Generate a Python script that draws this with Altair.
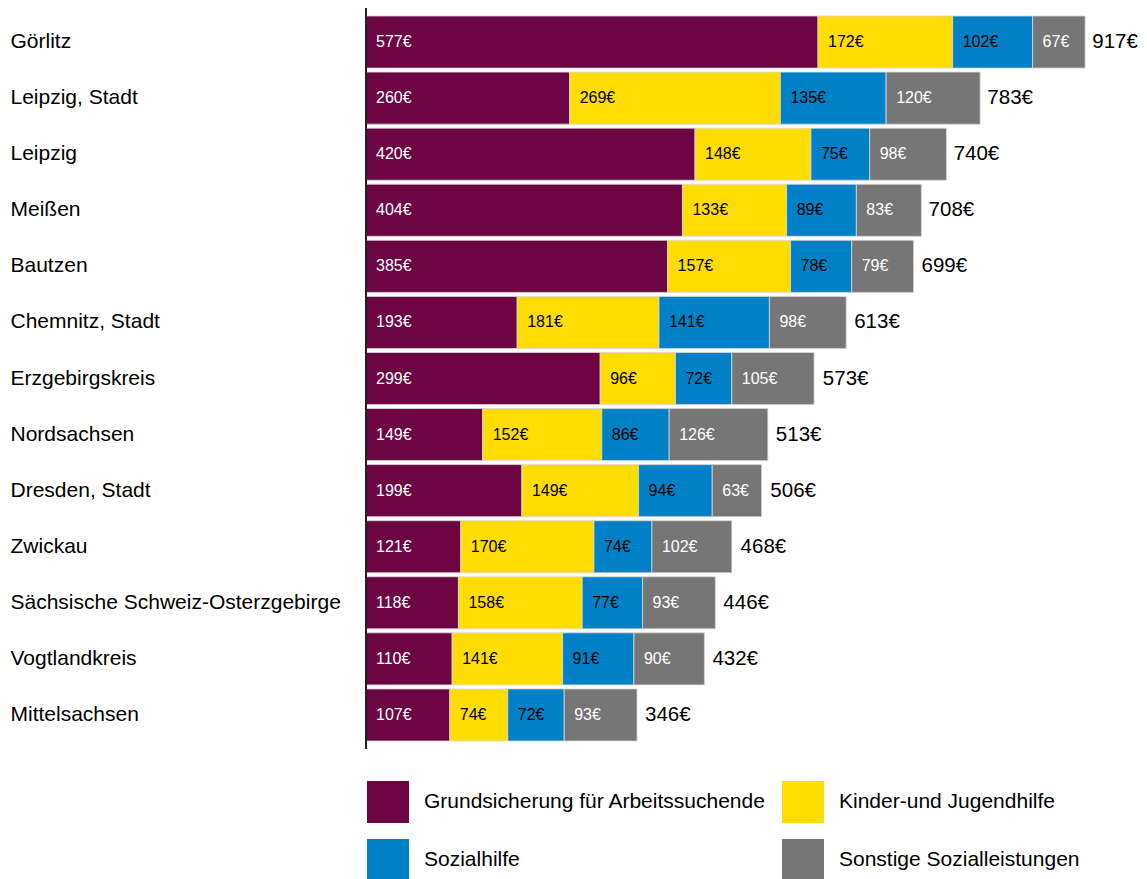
import altair as alt
import pandas as pd

categories = ["Görlitz", "Leipzig, Stadt", "Leipzig", "Meißen", "Bautzen", "Chemnitz, Stadt",
              "Erzgebirgskreis", "Nordsachsen", "Dresden, Stadt", "Zwickau",
              "Sächsische Schweiz-Osterzgebirge", "Vogtlandkreis", "Mittelsachsen"]
series = ["Grundsicherung für Arbeitssuchende", "Kinder-und Jugendhilfe", "Sozialhilfe",
          "Sonstige Sozialleistungen"]
grundsicherung = [577, 260, 420, 404, 385, 193, 299, 149, 199, 121, 118, 110, 107]
kinder = [172, 269, 148, 133, 157, 181, 96, 152, 149, 170, 158, 141, 74]
sozialhilfe = [102, 135, 75, 89, 78, 141, 72, 86, 94, 74, 77, 91, 72]
sonstige = [67, 120, 98, 83, 79, 98, 105, 126, 63, 102, 93, 90, 93]
totals = [917, 783, 740, 708, 699, 613, 573, 513, 506, 468, 446, 432, 346]
colors = ["#6D0542", "#FFDD00", "#0080C6", "#767676"]

FONT = "Liberation Sans"
W, H = 752, 729

rows = []
for i, cat in enumerate(categories):
    start = 0
    for s, vals in zip(series, [grundsicherung, kinder, sozialhilfe, sonstige]):
        v = vals[i]
        rows.append({"category": cat, "series": s, "value": v, "start": start, "end": start + v})
        start += v
df = pd.DataFrame(rows)
tot = pd.DataFrame({"category": categories, "total": totals})

xscale = alt.Scale(domain=[0, 960], nice=False, zero=True)
yscale = alt.Scale(domain=categories, paddingInner=0.0713, paddingOuter=0.0357)

base = alt.Chart(df)

bars = base.mark_bar(stroke="#d8d8d8", strokeWidth=0.8).encode(
    y=alt.Y("category:N", scale=yscale, title=None,
            axis=alt.Axis(domain=False, ticks=False, tickSize=0, labelAlign="left",
                          labelPadding=356, labelFontSize=21, labelFont=FONT,
                          labelColor="#000000", labelLimit=400)),
    x=alt.X("start:Q", scale=xscale, axis=None),
    x2="end:Q",
    color=alt.Color("series:N", scale=alt.Scale(domain=series, range=colors),
                    legend=alt.Legend(title=None, orient="none", legendX=1, legendY=767,
                                      columns=2, direction="horizontal",
                                      symbolType="square", symbolSize=1764,
                                      symbolStrokeWidth=0, labelFontSize=21, labelFont=FONT,
                                      labelColor="#000000", labelOffset=15, columnPadding=15,
                                      rowPadding=16, padding=0, labelLimit=500)),
)

seg_labels = base.transform_calculate(label="datum.value + '€'").mark_text(
    align="left", baseline="middle", dx=10, fontSize=16, font=FONT
).encode(
    y=alt.Y("category:N", scale=yscale),
    x=alt.X("start:Q", scale=xscale),
    text="label:N",
    color=alt.condition(
        alt.FieldOneOfPredicate(field="series", oneOf=[series[0], series[3]]),
        alt.value("#ffffff"), alt.value("#000000")),
)

tot_labels = alt.Chart(tot).transform_calculate(label="datum.total + '€'").mark_text(
    align="left", baseline="middle", dx=8, fontSize=20.5, font=FONT, color="#000000"
).encode(
    y=alt.Y("category:N", scale=yscale),
    x=alt.X("total:Q", scale=xscale),
    text="label:N",
)

axis_line = alt.Chart(tot).mark_rule(color="#222222", strokeWidth=2).encode(
    x=alt.value(0), y=alt.value(-10), y2=alt.value(H + 6)
)

chart = alt.layer(bars, seg_labels, tot_labels, axis_line).properties(
    width=W, height=H,
    autosize=alt.AutoSizeParams(type="none"),
    padding={"left": 358, "top": 6, "right": 21, "bottom": 136},
).configure_view(stroke=None)

chart.save("out.html", embed_options={"renderer": "svg", "actions": False})
